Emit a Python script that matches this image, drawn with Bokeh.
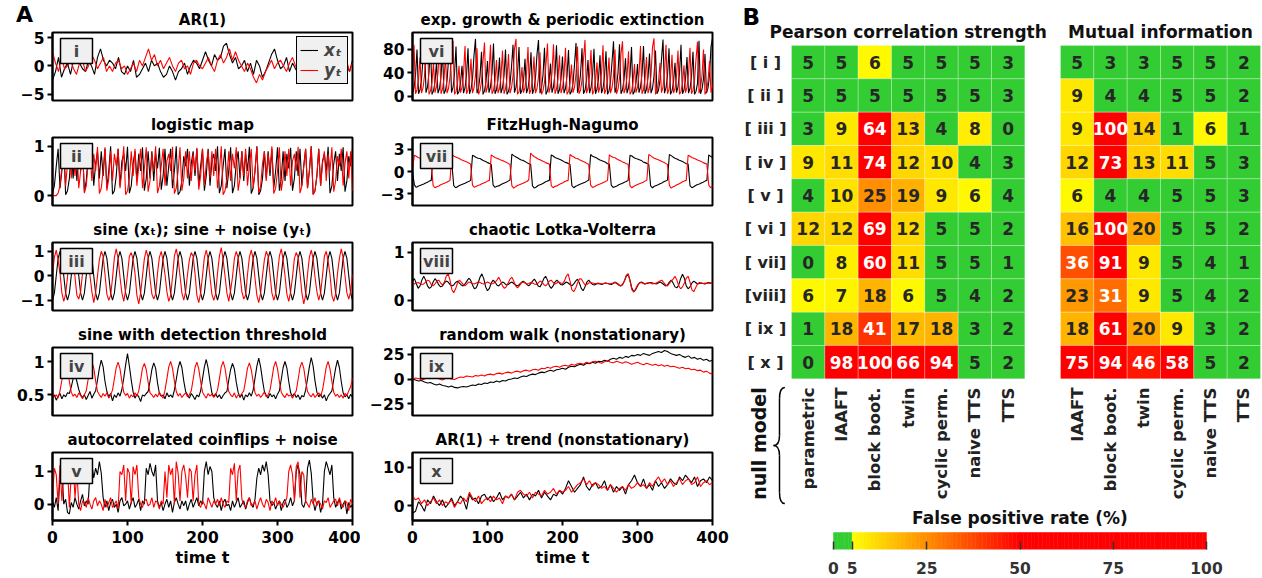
import math
from bokeh.plotting import figure
from bokeh.layouts import row, column
from bokeh.models import (Range1d, BoxAnnotation, Label, FixedTicker, Legend,
                          LegendItem, ColumnDataSource, GridBox, Div)
from bokeh.core.properties import value, field
from bokeh.embed import file_html
from bokeh.resources import INLINE

FONT = "DejaVu Sans"

# ---------------- Panel A data ----------------
AR1_X = [-2.5, -1.0, 1.5, -2.0, -0.5, 0.5, -1.5, 1.0, 2.0, 0.5,
         -0.5, -1.0, 1.0, 0.0, -1.5, 1.5, 3.0, 1.0, 0.0, 1.0,
         0.5, -0.5, 1.5, -1.0, -1.5, 0.0, -1.0, 1.0, -2.0, -1.5,
         -0.5, 0.5, -1.0, 1.0, 0.0, 0.5, -1.0, -2.0, -1.5, 0.0,
         -1.0, -2.5, -1.0, -0.5, 0.5, -1.5, 0.0, 1.0, 0.5, -0.5,
         1.0, 2.5, 1.0, 0.0, 2.0, 1.0, 1.5, 3.5, 4.0, 2.0,
         0.5, 1.5, -0.5, 0.0, 1.0, -1.0, 0.5, -1.5, 1.0, 0.0,
         -2.0, -1.0, 0.5, 2.0, 3.0, 1.0, -0.5, 0.0, 1.5, -1.0,
         0.5, -0.5, -1.5, 0.0, 1.0, 2.0, 0.5, -1.0, 0.0, -0.5,
         1.0, -1.0, -2.0, 0.0, 1.0, 0.5, -1.5, -0.5, 0.5, -1.0,
         1.0]
AR1_Y = [2.5, 0.5, -1.0, 1.5, -0.5, 0.0, 1.0, -0.5, -1.5, 0.5,
         1.0, -1.0, 0.0, 2.0, 1.0, -0.5, 0.5, 1.5, -1.0, 0.0,
         -1.0, 0.5, 1.0, -0.5, 0.0, -1.5, -0.5, 0.5, -1.0, 1.0,
         0.0, 1.5, 3.0, 1.0, 2.0, 0.0, 1.0, -0.5, 0.5, 1.5,
         0.0, -1.0, 0.5, 1.0, -0.5, 0.0, -1.5, 0.5, 1.0, 0.0,
         -0.5, 0.5, 1.5, 0.0, -1.0, 1.0, 2.0, 0.5, 1.5, 3.0,
         1.0, 2.5, 1.0, 0.0, -1.0, 0.5, -0.5, -2.0, -3.0, -1.5,
         -2.5, -1.0, 0.0, 1.0, -0.5, 0.5, 1.0, 0.0, -1.0, 0.5,
         1.5, 0.0, -0.5, 1.0, 0.5, -1.5, 0.0, 1.0, 2.0, 0.5,
         1.5, 0.0, -1.0, 1.0, -1.5, -0.5, 0.5, -2.5, 1.0, -1.0,
         0.5]

LOG_X = [0.05, 0.2, 0.6, 0.95, 0.15, 0.5, 1.0, 0.02, 0.1, 0.35,
         0.9, 0.35, 0.9, 0.3, 0.85, 0.5, 0.98, 0.08, 0.3, 0.8,
         0.6, 0.95, 0.2, 0.65, 0.9, 0.35, 0.9, 0.4, 0.95, 0.15,
         0.5, 1.0, 0.03, 0.1, 0.4, 0.95, 0.2, 0.7, 0.85, 0.5,
         0.99, 0.05, 0.2, 0.65, 0.9, 0.3, 0.85, 0.5, 0.98, 0.1,
         0.35, 0.9, 0.35, 0.9, 0.3, 0.85, 0.55, 0.97, 0.12, 0.4,
         0.95, 0.2, 0.6, 0.95, 0.15, 0.5, 1.0, 0.02, 0.08, 0.3,
         0.8, 0.6, 0.95, 0.2, 0.65, 0.9, 0.4, 0.95, 0.2, 0.6,
         0.95, 0.1, 0.4, 0.95, 0.2, 0.7, 0.85, 0.5, 1.0, 0.05,
         0.2, 0.6, 0.95, 0.15, 0.5, 0.98, 0.05, 0.2, 0.65, 0.9,
         0.35, 0.9, 0.3, 0.85, 0.5, 0.99, 0.04, 0.15, 0.5, 1.0,
         0.02, 0.1, 0.35, 0.9, 0.35, 0.9, 0.4, 0.95, 0.15, 0.5,
         0.98, 0.1, 0.35, 0.9, 0.3, 0.85, 0.55, 0.97, 0.1, 0.35,
         0.9, 0.4, 0.95, 0.2, 0.6, 0.95, 0.15, 0.5, 1.0, 0.03,
         0.1, 0.4, 0.95, 0.2, 0.7, 0.85, 0.5, 0.99, 0.05, 0.2,
         0.65, 0.9, 0.3, 0.85, 0.5, 0.98, 0.08, 0.3, 0.8, 0.6,
         0.95]
LOG_Y = [0.0, 0.0, 0.0, 0.05, 0.2, 0.6, 0.95, 0.2, 0.65, 0.9,
         0.35, 0.9, 0.4, 0.95, 0.15, 0.5, 1.0, 0.05, 0.2, 0.65,
         0.9, 0.3, 0.85, 0.5, 0.99, 0.04, 0.15, 0.5, 0.98, 0.1,
         0.35, 0.9, 0.3, 0.85, 0.6, 0.95, 0.15, 0.5, 1.0, 0.02,
         0.1, 0.35, 0.9, 0.4, 0.95, 0.2, 0.6, 0.95, 0.15, 0.55,
         0.98, 0.08, 0.3, 0.85, 0.5, 1.0, 0.05, 0.2, 0.6, 0.95,
         0.2, 0.7, 0.85, 0.5, 0.99, 0.04, 0.15, 0.5, 0.98, 0.1,
         0.35, 0.9, 0.35, 0.9, 0.3, 0.85, 0.5, 0.97, 0.12, 0.4,
         0.95, 0.2, 0.65, 0.9, 0.35, 0.9, 0.4, 0.95, 0.15, 0.5,
         1.0, 0.02, 0.1, 0.35, 0.9, 0.3, 0.85, 0.55, 0.98, 0.1,
         0.35, 0.9, 0.4, 0.95, 0.2, 0.6, 0.95, 0.15, 0.5, 0.99,
         0.05, 0.2, 0.65, 0.9, 0.3, 0.85, 0.5, 1.0, 0.04, 0.15,
         0.5, 0.98, 0.1, 0.35, 0.9, 0.4, 0.95, 0.2, 0.7, 0.85,
         0.5, 0.99, 0.05, 0.2, 0.6, 0.95, 0.15, 0.5, 1.0, 0.02,
         0.1, 0.4, 0.95, 0.2, 0.65, 0.9, 0.3, 0.85, 0.5, 0.98,
         0.08, 0.3, 0.8, 0.6, 0.95, 0.2, 0.65, 0.9, 0.35, 0.9,
         0.1]

SINE_X = [-1, -0.71, 0, 0.71, 1, 0.71, 0, -0.71,
          -1, -0.71, 0, 0.71, 1, 0.71, 0, -0.71,
          -1, -0.71, 0, 0.71, 1, 0.71, 0, -0.71,
          -1, -0.71, 0, 0.71, 1, 0.71, 0, -0.71,
          -1, -0.71, 0, 0.71, 1, 0.71, 0, -0.71,
          -1, -0.71, 0, 0.71, 1, 0.71, 0, -0.71,
          -1, -0.71, 0, 0.71, 1, 0.71, 0, -0.71,
          -1, -0.71, 0, 0.71, 1, 0.71, 0, -0.71,
          -1, -0.71, 0, 0.71, 1, 0.71, 0, -0.71,
          -1, -0.71, 0, 0.71, 1, 0.71, 0, -0.71,
          -1, -0.71, 0, 0.71, 1, 0.71, 0, -0.71,
          -1, -0.71, 0, 0.71, 1, 0.71, 0, -0.71,
          -1, -0.71, 0, 0.71, 1, 0.71, 0, -0.71,
          -1, -0.71, 0, 0.71, 1, 0.71, 0, -0.71,
          -1, -0.71, 0, 0.71, 1, 0.71, 0, -0.71,
          -1, -0.71, 0, 0.71, 1, 0.71, 0, -0.71,
          -1, -0.71, 0, 0.71, 1, 0.71, 0, -0.71,
          -1, -0.71, 0, 0.71, 1, 0.71, 0, -0.71,
          -1, -0.71, 0, 0.71, 1, 0.71, 0, -0.71,
          -1, -0.71, 0, 0.71, 1, 0.71, 0, -0.71,
          -1]
SINE_Y = [0.05, 0.75, 1.05, 0.65, 0.1, -0.7, -1.05, -0.75,
          -0.05, 0.8, 0.95, 0.7, -0.05, -0.8, -0.95, -0.65,
          0.1, 0.7, 1.1, 0.75, 0.0, -0.65, -1.1, -0.7,
          0.0, 0.65, 1.0, 0.8, 0.05, -0.75, -1.0, -0.8,
          -0.1, 0.75, 1.1, 0.7, -0.05, -0.7, -1.05, -0.6,
          0.05, 0.8, 0.95, 0.65, 0.1, -0.8, -1.15, -0.7,
          0.0, 0.7, 1.05, 0.75, -0.1, -0.75, -0.95, -0.75,
          0.1, 0.75, 1.0, 0.6, 0.05, -0.65, -1.05, -0.8,
          -0.05, 0.8, 1.1, 0.7, 0.0, -0.7, -1.0, -0.65,
          0.05, 0.65, 0.95, 0.8, 0.1, -0.8, -1.1, -0.7,
          0.0, 0.75, 1.05, 0.7, -0.05, -0.75, -1.0, -0.75,
          0.1, 0.8, 1.15, 0.65, 0.0, -0.7, -1.05, -0.6,
          -0.05, 0.7, 1.0, 0.75, 0.05, -0.65, -0.95, -0.8,
          0.05, 0.75, 1.05, 0.7, -0.1, -0.8, -1.1, -0.7,
          0.0, 0.65, 1.0, 0.8, 0.05, -0.7, -1.0, -0.75,
          0.1, 0.8, 1.1, 0.65, 0.0, -0.75, -1.05, -0.65,
          -0.05, 0.7, 0.95, 0.75, 0.1, -0.7, -1.15, -0.8,
          0.05, 0.75, 1.05, 0.7, -0.05, -0.65, -1.0, -0.7,
          0.0, 0.8, 1.0, 0.6, 0.05, -0.8, -1.05, -0.75,
          0.1, 0.7, 1.1, 0.75, 0.0, -0.7, -0.95, -0.65,
          0.05]

THR_X = [0.45, 0.5, 0.42, 0.48, 0.52, 0.44, 0.5, 0.47, 0.53, 0.52,
         0.62, 0.74, 0.8, 0.7, 0.58, 0.5, 0.46, 0.5, 0.43, 0.49,
         0.55, 0.45, 0.51, 0.56, 0.72, 0.9, 1.02, 0.92, 0.7, 0.55,
         0.47, 0.52, 0.41, 0.5, 0.46, 0.53, 0.48, 0.58, 0.75, 0.95,
         1.12, 0.93, 0.72, 0.54, 0.45, 0.51, 0.47, 0.4, 0.5, 0.48,
         0.52, 0.55, 0.7, 0.88, 0.98, 0.9, 0.68, 0.52, 0.48, 0.5,
         0.44, 0.53, 0.47, 0.5, 0.46, 0.57, 0.73, 0.9, 1.0, 0.91,
         0.71, 0.55, 0.5, 0.45, 0.52, 0.48, 0.43, 0.5, 0.47, 0.56,
         0.74, 0.92, 1.03, 0.9, 0.7, 0.53, 0.47, 0.52, 0.46, 0.5,
         0.44, 0.49, 0.53, 0.55, 0.72, 0.88, 0.97, 0.89, 0.69, 0.54,
         0.46, 0.51, 0.42, 0.5, 0.47, 0.53, 0.48, 0.57, 0.75, 0.93,
         1.05, 0.92, 0.72, 0.55, 0.49, 0.45, 0.52, 0.47, 0.5, 0.44,
         0.51, 0.56, 0.73, 0.91, 1.0, 0.9, 0.7, 0.53, 0.48, 0.52,
         0.46, 0.5, 0.43, 0.49, 0.47, 0.57, 0.74, 0.92, 1.06, 0.93,
         0.71, 0.54, 0.47, 0.51, 0.45, 0.5, 0.41, 0.48, 0.52, 0.56,
         0.73, 0.9, 1.02, 0.91, 0.7, 0.53, 0.47, 0.5, 0.44, 0.51,
         0.46]
THR_Y = [0.52, 0.47, 0.5, 0.45, 0.56, 0.72, 0.9, 0.98, 0.88, 0.7,
         0.54, 0.48, 0.51, 0.46, 0.53, 0.49, 0.44, 0.5, 0.56, 0.73,
         0.92, 1.0, 0.9, 0.71, 0.55, 0.5, 0.46, 0.52, 0.48, 0.53,
         0.45, 0.5, 0.57, 0.74, 0.91, 0.99, 0.89, 0.7, 0.54, 0.49,
         0.52, 0.45, 0.5, 0.47, 0.53, 0.48, 0.56, 0.72, 0.9, 0.97,
         0.88, 0.69, 0.53, 0.5, 0.46, 0.51, 0.47, 0.54, 0.49, 0.45,
         0.57, 0.74, 0.92, 1.0, 0.9, 0.71, 0.55, 0.48, 0.52, 0.46,
         0.5, 0.53, 0.47, 0.5, 0.56, 0.73, 0.91, 0.99, 0.89, 0.7,
         0.54, 0.49, 0.45, 0.52, 0.48, 0.51, 0.46, 0.5, 0.57, 0.74,
         0.92, 1.0, 0.9, 0.71, 0.55, 0.5, 0.47, 0.53, 0.45, 0.5,
         0.48, 0.52, 0.56, 0.72, 0.9, 0.98, 0.88, 0.7, 0.53, 0.48,
         0.51, 0.46, 0.5, 0.54, 0.47, 0.5, 0.57, 0.74, 0.92, 1.0,
         0.89, 0.7, 0.54, 0.49, 0.46, 0.52, 0.48, 0.5, 0.45, 0.51,
         0.56, 0.73, 0.91, 0.99, 0.9, 0.71, 0.55, 0.5, 0.47, 0.52,
         0.46, 0.5, 0.53, 0.48, 0.57, 0.74, 0.92, 1.0, 0.89, 0.7,
         0.54, 0.48, 0.51, 0.46, 0.5, 0.45, 0.52, 0.49, 0.56, 0.62,
         0.75]

COIN_X = [0.1, -0.1, 0.2, -0.2, 0.9, 1.1, 0.0, 0.15, -0.25, -0.3,
          0.05, -0.1, 0.2, 0.0, -0.15, 0.1, 0.3, -0.05, 0.1, 0.0,
          1.0, 1.2, 0.8, 1.1, 0.9, 1.3, 0.95, 0.2, -0.1, 0.1,
          -0.2, 0.05, 0.15, -0.1, 0.0, -0.25, 0.1, 0.2, -0.05, 0.0,
          0.1, -0.15, 0.05, 0.2, -0.1, 0.0, 0.15, -0.2, 0.1, 0.0,
          1.1, 0.9, 1.25, 1.0, 0.85, 1.2, 0.1, -0.1, 0.05, -0.2,
          0.0, 0.15, -0.1, 0.1, -0.25, 0.05, 0.2, 0.0, -0.15, 0.1,
          -0.05, 0.1, -0.2, 0.0, 0.15, -0.1, 0.05, 0.2, -0.05, 0.1,
          0.0, 1.0, 1.3, 0.9, 1.15, 1.0, 0.2, 0.0, -0.1, 0.1,
          -0.2, 0.05, 0.15, -0.05, 0.0, -0.2, 0.1, -0.1, 0.05, 0.2,
          -0.1, 0.0, 0.1, -0.15, 0.05, 0.2, 0.0, -0.1, 0.15, 0.8,
          1.1, 0.9, 1.2, 1.0, 1.3, 0.9, 0.1, -0.05, 0.05, -0.15,
          0.0, 0.1, -0.2, 0.05, 0.15, -0.1, 0.0, 0.2, -0.05, 0.1,
          1.0, 1.2, 0.9, 0.0, -0.1, 0.1, 1.1, 1.35, 0.95, 0.1,
          -0.2, 0.05, 0.1, -0.25, 0.0, 1.0, 1.3, 1.1, 0.9, 1.2,
          0.2, -0.1, 0.05, 0.15, -0.15, 0.0, 0.1, -0.3, 0.05, -0.1,
          0.0]
COIN_Y = [0.2, 1.1, 0.9, 0.0, 1.2, 0.1, 1.0, 0.8, 1.1, -0.1,
          0.9, 1.2, 0.2, 1.0, 0.0, -0.2, 0.1, 0.05, -0.1, 0.2,
          0.0, -0.15, 0.1, 0.2, -0.05, 0.1, 0.0, -0.2, 0.15, -0.1,
          0.05, 0.2, -0.1, 0.0, 0.1, -0.15, 1.0, 0.9, 1.2, 0.1,
          1.1, 0.95, 0.0, 1.15, 0.9, 1.2, 0.2, 0.0, -0.1, 0.1,
          0.15, -0.05, 0.0, 0.2, -0.1, 0.1, 0.05, -0.15, 0.1, 0.0,
          1.0, 0.2, 1.2, 0.9, 1.1, 0.0, 1.3, 0.95, 0.1, 1.0,
          1.2, 0.85, 0.2, 1.1, 1.0, 0.1, 0.9, 1.2, 0.0, -0.1,
          0.1, 0.0, -0.15, 0.2, 0.05, -0.1, 0.1, 0.0, 0.15, -0.05,
          0.2, 0.0, -0.1, 0.1, 0.05, 1.1, 0.9, 1.25, 0.1, 1.0,
          1.2, 0.15, 0.0, -0.1, 0.1, 0.2, -0.05, 0.0, 0.1, -0.15,
          0.05, 0.2, 0.0, -0.1, 0.15, 0.05, -0.2, 0.1, 0.0, 0.2,
          -0.05, 0.1, 0.0, -0.1, 0.05, 0.2, 1.0, 1.2, 0.9, 0.1,
          1.15, 1.3, 0.2, 1.0, 0.9, 0.1, 0.0, -0.1, 0.15, 0.0,
          0.2, -0.05, 0.1, 0.0, -0.15, 0.1, 0.05, 0.2, -0.1, 0.0,
          0.1, 0.15, -0.05, 0.2, 0.0, -0.1, 0.1, 0.05, -0.2, 0.15,
          0.0]

EXP_X = [5, 14, 35, 80, 4, 11, 28, 65, 95, 6, 16, 40, 88, 3, 9, 24, 58,
         5, 13, 33, 78, 4, 10, 26, 62, 92, 6, 15, 38, 85, 3, 8, 22, 52,
         5, 14, 36, 82, 4, 12, 30, 70, 98, 5, 13, 34, 76, 3, 9, 25, 60,
         6, 16, 40, 90, 4, 11, 28, 66, 5, 14, 35, 80, 3, 8, 21, 50, 88,
         6, 15, 38, 84, 4, 10, 27, 64, 5, 13, 33, 75, 4, 12, 31, 72, 96,
         5, 14, 36, 83, 3, 9, 24, 56, 6, 16, 39, 87, 4, 11, 29, 68,
         5, 13, 34, 79, 3, 8, 22, 54, 91, 6, 15, 37, 82, 4, 10, 26, 62,
         5, 14, 35, 81, 4, 12, 30, 70, 5, 13, 33, 77, 3, 9, 25, 58, 94,
         6, 16, 40, 89, 4, 11, 28, 65, 5, 14, 36, 84, 3, 8, 23, 55,
         6, 15, 38, 86, 4, 12, 31, 73, 5, 13, 34, 78, 4, 10, 27, 63, 97,
         5, 14, 35, 82, 3, 9, 24, 57, 6, 16, 39, 88, 4, 11, 29, 67,
         5, 13, 33, 76, 3, 8, 22, 95, 4, 12, 30, 72, 5, 14, 36, 85, 99]
EXP_Y = [40, 88, 4, 11, 28, 66, 5, 14, 35, 80, 97, 3, 9, 24, 58,
         6, 16, 40, 90, 4, 12, 30, 70, 5, 13, 33, 76, 95, 3, 8, 22, 52,
         6, 15, 38, 86, 4, 11, 28, 64, 5, 14, 36, 82, 3, 9, 25, 60, 92,
         6, 16, 39, 88, 4, 10, 26, 62, 5, 13, 34, 78, 4, 12, 31, 72,
         5, 14, 35, 81, 98, 3, 8, 21, 50, 6, 15, 37, 84, 4, 11, 29, 68,
         5, 13, 33, 75, 3, 9, 24, 56, 90, 6, 16, 40, 89, 4, 12, 30, 70,
         5, 14, 36, 83, 3, 8, 22, 54, 6, 15, 38, 85, 4, 10, 27, 64, 96,
         5, 13, 34, 79, 3, 9, 25, 58, 6, 16, 39, 87, 4, 11, 28, 66,
         5, 14, 35, 80, 4, 12, 31, 73, 94, 5, 13, 33, 77, 3, 8, 23, 55,
         6, 15, 38, 86, 4, 11, 29, 67, 5, 14, 36, 84, 99, 3, 9, 24, 57,
         6, 16, 40, 88, 4, 12, 30, 71, 5, 13, 34, 78, 3, 8, 22, 53,
         6, 15, 37, 83, 4, 10, 27, 63, 93, 5, 14, 35, 80, 3, 9, 25, 60,
         6, 16, 39, 90]

# FitzHugh-Nagumo: about 7.5 relaxation cycles, x and y roughly in antiphase
FHN_X = [0.0, -1.8, -2.15, -2.0, -1.9, -1.8, -1.7, -1.55, -1.45, -1.3, -1.2,
         2.3, 2.1, 1.95, 1.85, 1.7, 1.6, 1.5, 1.35, 1.25, 1.1, 1.0,
         -1.9, -2.2, -2.05, -1.9, -1.8, -1.7, -1.6, -1.45, -1.35, -1.2,
         2.2, 2.05, 1.9, 1.8, 1.75, 1.6, 1.45, 1.35, 1.2, 1.1, 0.95,
         -1.85, -2.15, -2.0, -1.95, -1.8, -1.65, -1.55, -1.45, -1.3, -1.15,
         2.35, 2.15, 2.0, 1.85, 1.7, 1.55, 1.5, 1.35, 1.2, 1.05, 1.0,
         -1.95, -2.25, -2.1, -1.9, -1.8, -1.7, -1.55, -1.4, -1.3, -1.2,
         2.25, 2.1, 1.9, 1.8, 1.7, 1.6, 1.45, 1.3, 1.2, 1.1, 0.95,
         -1.9, -2.2, -2.0, -1.9, -1.75, -1.65, -1.55, -1.45, -1.3, -1.15,
         2.3, 2.05, 1.95, 1.85, 1.7, 1.55, 1.45, 1.35, 1.25, 1.05, 1.0,
         -1.85, -2.15, -2.05, -1.95, -1.8, -1.7, -1.6, -1.45, -1.35, -1.2,
         2.2, 2.1, 1.9, 1.75, 1.7, 1.6, 1.5, 1.3, 1.2, 1.1, 0.95,
         -1.95, -2.2, -2.0, -1.9, -1.8, -1.65, -1.55, -1.4, -1.3, -1.15,
         2.3, 2.15, 1.95, 1.8, 1.7, 1.55, 1.45, 1.35, 1.2, 1.05, 1.0,
         -1.9, -2.2, -2.05, -1.9, -1.75, -1.7, -1.55, -1.45, -1.3, -1.2,
         2.25, 2.05, 1.9, 1.8, 1.7, 1.6, 1.45]
FHN_Y = [0.3, 2.2, 2.05, 1.9, 1.8, 1.7, 1.55, 1.45, 1.3, 1.15, 1.0,
         -1.9, -2.2, -2.05, -1.95, -1.8, -1.7, -1.6, -1.5, -1.35, -1.2,
         2.3, 2.1, 1.95, 1.85, 1.75, 1.6, 1.5, 1.4, 1.3, 1.15, 1.0,
         -1.85, -2.15, -2.0, -1.9, -1.8, -1.65, -1.55, -1.45, -1.3, -1.2,
         2.25, 2.05, 1.9, 1.8, 1.7, 1.55, 1.5, 1.35, 1.25, 1.1, 0.95,
         -1.95, -2.25, -2.05, -1.9, -1.8, -1.7, -1.6, -1.45, -1.35, -1.15,
         2.5, 2.2, 2.0, 1.85, 1.7, 1.6, 1.45, 1.35, 1.2, 1.1, 1.0,
         -1.9, -2.2, -2.0, -1.95, -1.8, -1.65, -1.55, -1.4, -1.3, -1.2,
         2.3, 2.1, 1.95, 1.8, 1.75, 1.6, 1.5, 1.35, 1.25, 1.1, 0.95,
         -1.85, -2.15, -2.05, -1.9, -1.8, -1.7, -1.6, -1.45, -1.35, -1.2,
         2.25, 2.05, 1.9, 1.85, 1.7, 1.55, 1.45, 1.3, 1.2, 1.05, 1.0,
         -1.95, -2.2, -2.0, -1.9, -1.75, -1.65, -1.55, -1.45, -1.3, -1.15,
         2.3, 2.15, 1.95, 1.8, 1.7, 1.6, 1.5, 1.35, 1.25, 1.1, 0.95,
         -1.9, -2.25, -2.05, -1.95, -1.8, -1.7, -1.55, -1.4, -1.3, -1.2,
         2.2, 2.05, 1.9, 1.8, 1.7, 1.55, 1.45, 1.35, 1.2, 1.1, 1.0,
         -1.85, -2.2, -2.0, -1.9, -1.8, -1.65, -1.55]

LV_X = [0.4, 0.45, 0.35, 0.25, 0.3, 0.42, 0.5, 0.42, 0.3, 0.25,
        0.28, 0.38, 0.45, 0.4, 0.32, 0.28, 0.3, 0.36, 0.4, 0.38,
        0.33, 0.3, 0.32, 0.37, 0.4, 0.36, 0.32, 0.3, 0.34, 0.4,
        0.46, 0.42, 0.32, 0.24, 0.26, 0.36, 0.48, 0.55, 0.45, 0.28,
        0.2, 0.25, 0.36, 0.42, 0.38, 0.32, 0.3, 0.34, 0.38, 0.36,
        0.32, 0.33, 0.36, 0.38, 0.35, 0.32, 0.3, 0.33, 0.37, 0.4,
        0.37, 0.33, 0.3, 0.34, 0.4, 0.44, 0.38, 0.3, 0.28, 0.35,
        0.45, 0.5, 0.42, 0.3, 0.25, 0.3, 0.38, 0.42, 0.38, 0.33,
        0.32, 0.35, 0.38, 0.36, 0.33, 0.3, 0.34, 0.4, 0.44, 0.36,
        0.25, 0.2, 0.28, 0.38, 0.42, 0.37, 0.33, 0.32, 0.34, 0.35,
        0.34, 0.33, 0.35, 0.36, 0.35, 0.34, 0.33, 0.35, 0.37, 0.35,
        0.32, 0.3, 0.33, 0.4, 0.5, 0.55, 0.42, 0.25, 0.18, 0.22,
        0.3, 0.36, 0.38, 0.36, 0.34, 0.35, 0.36, 0.37, 0.36, 0.35,
        0.34, 0.36, 0.38, 0.36, 0.33, 0.3, 0.32, 0.38, 0.42, 0.36,
        0.28, 0.26, 0.32, 0.45, 0.54, 0.46, 0.3, 0.24, 0.28, 0.36,
        0.4, 0.37, 0.34, 0.35, 0.36, 0.35, 0.34, 0.36, 0.37, 0.36,
        0.36]
LV_Y = [0.35, 0.34, 0.36, 0.37, 0.35, 0.33, 0.34, 0.38, 0.42, 0.4,
        0.33, 0.3, 0.34, 0.4, 0.42, 0.36, 0.32, 0.38, 0.5, 0.55,
        0.42, 0.22, 0.16, 0.24, 0.36, 0.42, 0.38, 0.33, 0.3, 0.34,
        0.38, 0.37, 0.35, 0.34, 0.36, 0.38, 0.37, 0.35, 0.34, 0.36,
        0.38, 0.36, 0.34, 0.35, 0.37, 0.42, 0.48, 0.4, 0.3, 0.25,
        0.28, 0.36, 0.44, 0.48, 0.4, 0.3, 0.26, 0.3, 0.36, 0.38,
        0.36, 0.34, 0.35, 0.37, 0.36, 0.34, 0.33, 0.36, 0.4, 0.38,
        0.33, 0.3, 0.34, 0.4, 0.42, 0.37, 0.34, 0.36, 0.38, 0.36,
        0.35, 0.4, 0.5, 0.55, 0.4, 0.22, 0.18, 0.25, 0.36, 0.44,
        0.45, 0.38, 0.32, 0.33, 0.36, 0.37, 0.36, 0.35, 0.35, 0.36,
        0.35, 0.34, 0.35, 0.36, 0.35, 0.34, 0.35, 0.36, 0.38, 0.36,
        0.33, 0.3, 0.32, 0.4, 0.52, 0.55, 0.4, 0.22, 0.17, 0.24,
        0.32, 0.36, 0.37, 0.35, 0.34, 0.36, 0.37, 0.36, 0.34, 0.35,
        0.36, 0.38, 0.4, 0.42, 0.37, 0.32, 0.3, 0.35, 0.4, 0.44,
        0.5, 0.42, 0.3, 0.24, 0.28, 0.36, 0.46, 0.5, 0.38, 0.22,
        0.18, 0.26, 0.34, 0.37, 0.36, 0.35, 0.36, 0.35, 0.36, 0.35,
        0.36]

RW_X = [0, -1, -2, -1.5, -3, -4, -3.5, -5, -6, -5,
        -6.5, -7, -8, -7, -8.5, -9, -8, -7.5, -8, -7,
        -6, -6.5, -5, -5.5, -4, -4.5, -3, -3.5, -2, -3,
        -1.5, -2, -0.5, 0, 1, 0.5, 2, 3, 2.5, 4,
        5, 4.5, 6, 7, 6.5, 8, 9, 8, 9.5, 10,
        11, 10, 12, 13, 12.5, 14, 15, 14, 16, 15.5,
        17, 16, 18, 17.5, 19, 18, 20, 21, 20, 22,
        21, 23, 22, 24, 23.5, 25, 24, 26, 25, 24,
        26, 27, 28, 27, 29, 28, 26, 25, 24, 25,
        23, 22, 23.5, 21, 22, 20, 21, 19, 20, 18,
        19]
RW_Y = [0, 1, 0.5, -1, 0, 1.5, 1, 2, 1, 0,
        -1, 0.5, 1, 0, -0.5, 1, 2, 1.5, 3, 2.5,
        2, 3.5, 3, 4, 3, 4.5, 5, 4, 5.5, 6,
        5, 6.5, 7, 6, 7.5, 8, 7, 8.5, 9, 8,
        9.5, 10, 9, 11, 10.5, 12, 11, 12.5, 13, 12,
        13.5, 14, 13, 15, 14, 15.5, 16, 15, 17, 16,
        17.5, 18, 17, 16, 17.5, 18.5, 17, 16.5, 18, 17,
        16, 17.5, 16.5, 15, 16, 17, 15.5, 14.5, 16, 15,
        14, 15, 13.5, 14.5, 13, 14, 12.5, 13, 12, 11,
        12, 10.5, 11, 9.5, 10, 8.5, 9, 7, 8, 6,
        5]

TR_X = [-2.0, -1.5, 1.0, 0.0, -1.5, 1.5, 0.5, 2.5, 1.0, 0.0,
        1.5, -0.5, 0.5, 2.0, 0.0, 1.0, 2.5, 1.5, -1.0, 3.0,
        1.5, 2.0, 0.5, 2.5, 3.0, 1.5, 2.5, 1.0, 2.0, 3.5,
        1.5, 2.5, 2.0, 3.0, 1.5, 2.5, 3.5, 2.0, 3.0, 1.5,
        3.0, 2.5, 4.0, 2.0, 3.5, 2.5, 1.5, 3.0, 2.5, 4.0,
        3.0, 4.5, 6.5, 5.0, 3.5, 4.5, 5.5, 7.5, 5.0, 4.0,
        5.5, 6.0, 4.5, 5.0, 6.5, 4.0, 5.5, 3.5, 5.0, 4.0,
        5.0, 3.0, 5.5, 6.5, 8.0, 6.0, 5.0, 7.0, 4.5, 5.5,
        4.0, 6.5, 5.0, 6.0, 4.5, 5.5, 7.0, 6.0, 5.5, 7.5,
        6.5, 8.0, 7.0, 6.0, 7.5, 5.0, 6.5, 7.0, 6.0, 7.5,
        6.5]
TR_Y = [2.5, 1.5, 2.0, 0.5, 1.5, 0.0, 1.0, 2.0, 0.5, 1.5,
        0.0, 1.0, 0.5, 1.5, -0.5, 1.0, 0.5, 2.0, 1.0, 3.5,
        2.0, 1.0, 2.5, 0.5, 1.5, 2.0, 1.0, 2.5, 1.5, 2.0,
        0.5, 2.5, 2.0, 3.0, 1.5, 3.5, 4.0, 3.0, 2.5, 3.5,
        2.0, 3.5, 3.0, 2.5, 4.0, 3.0, 3.5, 4.5, 3.0, 4.0,
        3.5, 4.0, 5.0, 3.5, 4.5, 5.5, 6.0, 7.0, 5.5, 6.5,
        5.0, 6.0, 5.5, 4.5, 5.0, 4.0, 5.5, 4.5, 3.5, 4.5,
        5.0, 4.0, 5.5, 4.5, 5.0, 6.0, 5.0, 5.5, 4.5, 6.0,
        5.0, 6.5, 7.5, 6.0, 7.0, 5.5, 6.5, 5.0, 6.0, 7.0,
        5.5, 6.5, 7.0, 5.5, 6.0, 7.5, 5.0, 6.0, 6.5, 5.5,
        6.0]

# ---------------- Panel B data ----------------
ROW_LABELS = ["[ i ]", "[ ii ]", "[ iii ]", "[ iv ]", "[ v ]",
              "[ vi ]", "[ vii]", "[viii]", "[ ix ]", "[ x ]"]
PEARSON_COLS = ["parametric", "IAAFT", "block boot.", "twin",
                "cyclic perm.", "naive TTS", "TTS"]
MI_COLS = ["IAAFT", "block boot.", "twin", "cyclic perm.", "naive TTS", "TTS"]
PEARSON = [[5, 5, 6, 5, 5, 5, 3],
           [5, 5, 5, 5, 5, 5, 3],
           [3, 9, 64, 13, 4, 8, 0],
           [9, 11, 74, 12, 10, 4, 3],
           [4, 10, 25, 19, 9, 6, 4],
           [12, 12, 69, 12, 5, 5, 2],
           [0, 8, 60, 11, 5, 5, 1],
           [6, 7, 18, 6, 5, 4, 2],
           [1, 18, 41, 17, 18, 3, 2],
           [0, 98, 100, 66, 94, 5, 2]]
MI = [[5, 3, 3, 5, 5, 2],
      [9, 4, 4, 5, 5, 2],
      [9, 100, 14, 1, 6, 1],
      [12, 73, 13, 11, 5, 3],
      [6, 4, 4, 5, 5, 3],
      [16, 100, 20, 5, 5, 2],
      [36, 91, 9, 5, 4, 1],
      [23, 31, 9, 5, 4, 2],
      [18, 61, 20, 9, 3, 2],
      [75, 94, 46, 58, 5, 2]]
CB_TICKS = [0, 5, 25, 50, 75, 100]


def fpr_color(v):
    if v <= 5:
        return "#33cc33"
    if v >= 50:
        return "#ff0000"
    g = int(round(255 * (1 - (v - 5) / 45.0)))
    return "#ff%02x00" % g


# ---------------- Panel A figures ----------------
PANELS = [
    ("AR(1)", AR1_X, AR1_Y, 4, (-6.1, 5.9), [-5, 0, 5], "i"),
    ("logistic map", LOG_X, LOG_Y, 2.5, (-0.2, 1.18), [0, 1], "ii"),
    ("sine (xₜ); sine + noise (yₜ)", SINE_X, SINE_Y, 2.5, (-1.42, 1.36), [-1, 0, 1], "iii"),
    ("sine with detection threshold", THR_X, THR_Y, 2.5, (0.19, 1.21), [0.5, 1.0], "iv"),
    ("autocorrelated coinflips + noise", COIN_X, COIN_Y, 2.5, (-0.5, 1.58), [0, 1], "v"),
    ("exp. growth & periodic extinction", EXP_X, EXP_Y, 2, (-7.5, 109), [0, 40, 80], "vi"),
    ("FitzHugh-Nagumo", FHN_X, FHN_Y, 2.5, (-4.6, 4.6), [-3, 0, 3], "vii"),
    ("chaotic Lotka-Volterra", LV_X, LV_Y, 2.5, (-0.21, 1.2), [0, 1], "viii"),
    ("random walk (nonstationary)", RW_X, RW_Y, 4, (-37, 32), [-25, 0, 25], "ix"),
    ("AR(1) + trend (nonstationary)", TR_X, TR_Y, 4, (-3.9, 13.9), [0, 10], "x"),
]


def ts_fig(k, spec):
    title, xs, ys, step, ylim, yticks, lab = spec
    left_col = k < 5
    bottom = (k % 5) == 4
    p = figure(width=360 if left_col else 380, height=158 if bottom else 105,
               x_range=Range1d(0, 400), y_range=Range1d(*ylim),
               output_backend="svg", toolbar_location=None,
               x_axis_location="below" if bottom else None,
               min_border_left=52, min_border_right=8 if left_col else 28,
               min_border_top=32, min_border_bottom=58 if bottom else 5)
    p.title.text = title
    p.title.align = "center"
    p.title.text_font = FONT
    p.title.text_font_size = "15px"
    p.title.text_font_style = "bold"
    p.title.text_color = "black"
    p.title.standoff = 8
    p.grid.visible = False
    p.outline_line_color = "black"
    p.outline_line_width = 2
    p.outline_line_alpha = 1
    p.background_fill_color = "white"
    p.border_fill_color = "white"
    if k == 0:
        p.border_fill_alpha = 0
    for ax in p.axis:
        ax.axis_line_width = 2
        ax.major_tick_line_width = 2
        ax.major_tick_out = 5
        ax.major_tick_in = 0
        ax.minor_tick_line_color = None
        ax.major_label_text_font = FONT
        ax.major_label_text_font_size = "15.5px"
        ax.major_label_text_font_style = "bold"
        ax.major_label_text_color = "black"
        ax.major_label_standoff = 3
    p.yaxis.ticker = FixedTicker(ticks=yticks)
    p.yaxis.major_label_overrides = {t: "\u2212" + str(abs(t)) for t in yticks if t < 0}
    if bottom:
        p.xaxis.ticker = FixedTicker(ticks=[0, 100, 200, 300, 400])
        p.xaxis.major_label_standoff = 5
        p.xaxis.axis_label = "time t"
        p.xaxis.axis_label_text_font = FONT
        p.xaxis.axis_label_text_font_size = "16px"
        p.xaxis.axis_label_text_font_style = "bold"
        p.xaxis.axis_label_text_color = "black"
        p.xaxis.axis_label_standoff = 2
    tb = [i * step for i in range(len(xs))]
    tr = [i * step for i in range(len(ys))]
    rb = p.line(tb, xs, line_color="black", line_width=1.1)
    rr = p.line(tr, ys, line_color="#ff0000", line_width=1.1)
    yr = ylim[1] - ylim[0]
    x0, x1 = 8 * 400 / 300, 40 * 400 / 300
    top = ylim[1] - 6 * yr / 68
    bot = ylim[1] - 31 * yr / 68
    p.add_layout(BoxAnnotation(left=x0, right=x1, top=top, bottom=bot,
                               fill_color="#f0f0f0", fill_alpha=1,
                               line_color="black", line_alpha=1, line_width=1.5))
    p.add_layout(Label(x=(x0 + x1) / 2, y=(top + bot) / 2, text=lab,
                       text_align="center", text_baseline="middle",
                       text_font=FONT, text_font_size="16px", text_font_style="bold"))
    if k == 0:
        leg = Legend(items=[LegendItem(label="xₜ", renderers=[rb]),
                            LegendItem(label="yₜ", renderers=[rr])],
                     location="top_right", border_line_color="black",
                     border_line_width=1.5, border_line_alpha=1,
                     background_fill_color="#f0f0f0", background_fill_alpha=1,
                     label_text_font=FONT, label_text_font_size="17px",
                     label_text_font_style="bold italic", glyph_width=18,
                     glyph_height=12, label_height=14, label_standoff=6,
                     padding=3, spacing=0, margin=4)
        p.add_layout(leg)
    return p


figs = [ts_fig(k, s) for k, s in enumerate(PANELS)]

div_a = Div(text='<div style="padding:1px 0 0 16px; font-family:\'DejaVu Sans\';'
                 ' font-weight:bold; font-size:22px; line-height:28px; color:black;">A</div>',
            width=60, height=30, margin=(0, 0, 0, 0),
            styles={"z-index": "10", "position": "relative"})
first = GridBox(children=[(figs[0], 0, 0), (div_a, 0, 0)])

# ---------------- Panel B: heatmaps ----------------
MI_X0 = 8.07
pb = figure(width=522, height=505, x_range=Range1d(-1.53, 14.13),
            y_range=Range1d(13.8, -1.35), output_backend="svg",
            toolbar_location=None, x_axis_location=None, y_axis_location=None,
            min_border=0, outline_line_color=None)
pb.grid.visible = False

cx, cy, cfill, ctext, ctc = [], [], [], [], []
for r in range(len(ROW_LABELS)):
    for c, v in enumerate(PEARSON[r]):
        cx.append(c + 0.5); cy.append(r + 0.5)
        cfill.append(fpr_color(v)); ctext.append(str(v))
        ctc.append("white" if v >= 30 else "#262626")
    for c, v in enumerate(MI[r]):
        cx.append(MI_X0 + c + 0.5); cy.append(r + 0.5)
        cfill.append(fpr_color(v)); ctext.append(str(v))
        ctc.append("white" if v >= 30 else "#262626")
src = ColumnDataSource(dict(x=cx, y=cy, fill=cfill, text=ctext, tc=ctc))
pb.rect(x="x", y="y", width=1, height=1, source=src, fill_color=field("fill"),
        line_color="white", line_alpha=0.25, line_width=1)
pb.text(x="x", y="y", text="text", source=src, text_color=field("tc"),
        text_align="center", text_baseline="middle", text_font=value(FONT),
        text_font_size="17px", text_font_style="bold")

pb.text(x=[-0.78] * len(ROW_LABELS), y=[r + 0.5 for r in range(len(ROW_LABELS))],
        text=ROW_LABELS, text_align="center", text_baseline="middle",
        text_font=value(FONT), text_font_size="16px", text_font_style="bold",
        text_color="#222222")

pb.text(x=[c + 0.5 for c in range(len(PEARSON_COLS))], y=[10.26] * len(PEARSON_COLS),
        text=PEARSON_COLS, angle=math.pi / 2, text_align="right", text_baseline="middle",
        text_font=value(FONT), text_font_size="16.5px", text_font_style="bold",
        text_color="#222222")
pb.text(x=[MI_X0 + c + 0.5 for c in range(len(MI_COLS))], y=[10.26] * len(MI_COLS),
        text=MI_COLS, angle=math.pi / 2, text_align="right", text_baseline="middle",
        text_font=value(FONT), text_font_size="16.5px", text_font_style="bold",
        text_color="#222222")

pb.text(x=[3.5, MI_X0 + 3.0], y=[-0.4, -0.4],
        text=["Pearson correlation strength", "Mutual information"],
        text_align="center", text_baseline="middle", text_font=value(FONT),
        text_font_size="17px", text_font_style="bold", text_color="#111111")
pb.text(x=[-1.47], y=[-0.87], text=["B"], text_align="left", text_baseline="middle",
        text_font=value(FONT), text_font_size="23px", text_font_style="bold",
        text_color="black")
pb.text(x=[-0.99], y=[11.94], text=["null model"], angle=math.pi / 2,
        text_align="center", text_baseline="middle", text_font=value(FONT),
        text_font_size="19px", text_font_style="bold", text_color="#111111")

# brace
xr, xm, xl = -0.2, -0.36, -0.54
yt, ymid, yb = 10.26, 12.0, 13.74
pb.quadratic(x0=[xr, xm, xl, xm], y0=[yt, ymid - 0.3, ymid, yb - 0.34],
             x1=[xm, xl, xm, xr], y1=[yt + 0.34, ymid, ymid + 0.3, yb],
             cx=[xm, xm, xm, xm], cy=[yt, ymid, ymid, yb],
             line_color="black", line_width=1.5)
pb.segment(x0=[xm, xm], y0=[yt + 0.34, ymid + 0.3], x1=[xm, xm], y1=[ymid - 0.3, yb - 0.34],
           line_color="black", line_width=1.5)

# ---------------- Colorbar ----------------
cb = figure(width=522, height=73, x_range=Range1d(-24.93, 115.01), y_range=Range1d(0, 2.59),
            output_backend="svg", toolbar_location=None, y_axis_location=None,
            min_border_left=0, min_border_right=0, min_border_top=0,
            min_border_bottom=29, outline_line_color=None)
cb.grid.visible = False
levels = list(range(100))
cols = [fpr_color(v + 0.5) for v in levels]
cb.quad(left=levels, right=[v + 1 for v in levels], bottom=0, top=1,
        fill_color=cols, line_color=cols, line_width=0.5)
cb.text(x=[50], y=[1.88], text=["False positive rate (%)"], text_align="center",
        text_baseline="middle", text_font=value(FONT), text_font_size="17px",
        text_font_style="bold", text_color="#111111")
cb.xaxis.ticker = FixedTicker(ticks=CB_TICKS)
cb.xaxis.axis_line_color = None
cb.xaxis.major_tick_in = 8
cb.xaxis.major_tick_out = 0
cb.xaxis.major_tick_line_width = 1.5
cb.xaxis.major_tick_line_color = "#333333"
cb.xaxis.minor_tick_line_color = None
cb.xaxis.major_label_text_font = FONT
cb.xaxis.major_label_text_font_size = "15.5px"
cb.xaxis.major_label_text_font_style = "bold"
cb.xaxis.major_label_text_color = "#333333"
cb.xaxis.major_label_standoff = 12

layout = row(column(first, *figs[1:5]), column(*figs[5:]), column(pb, cb))
open("out.html", "w").write(file_html(layout, INLINE))
